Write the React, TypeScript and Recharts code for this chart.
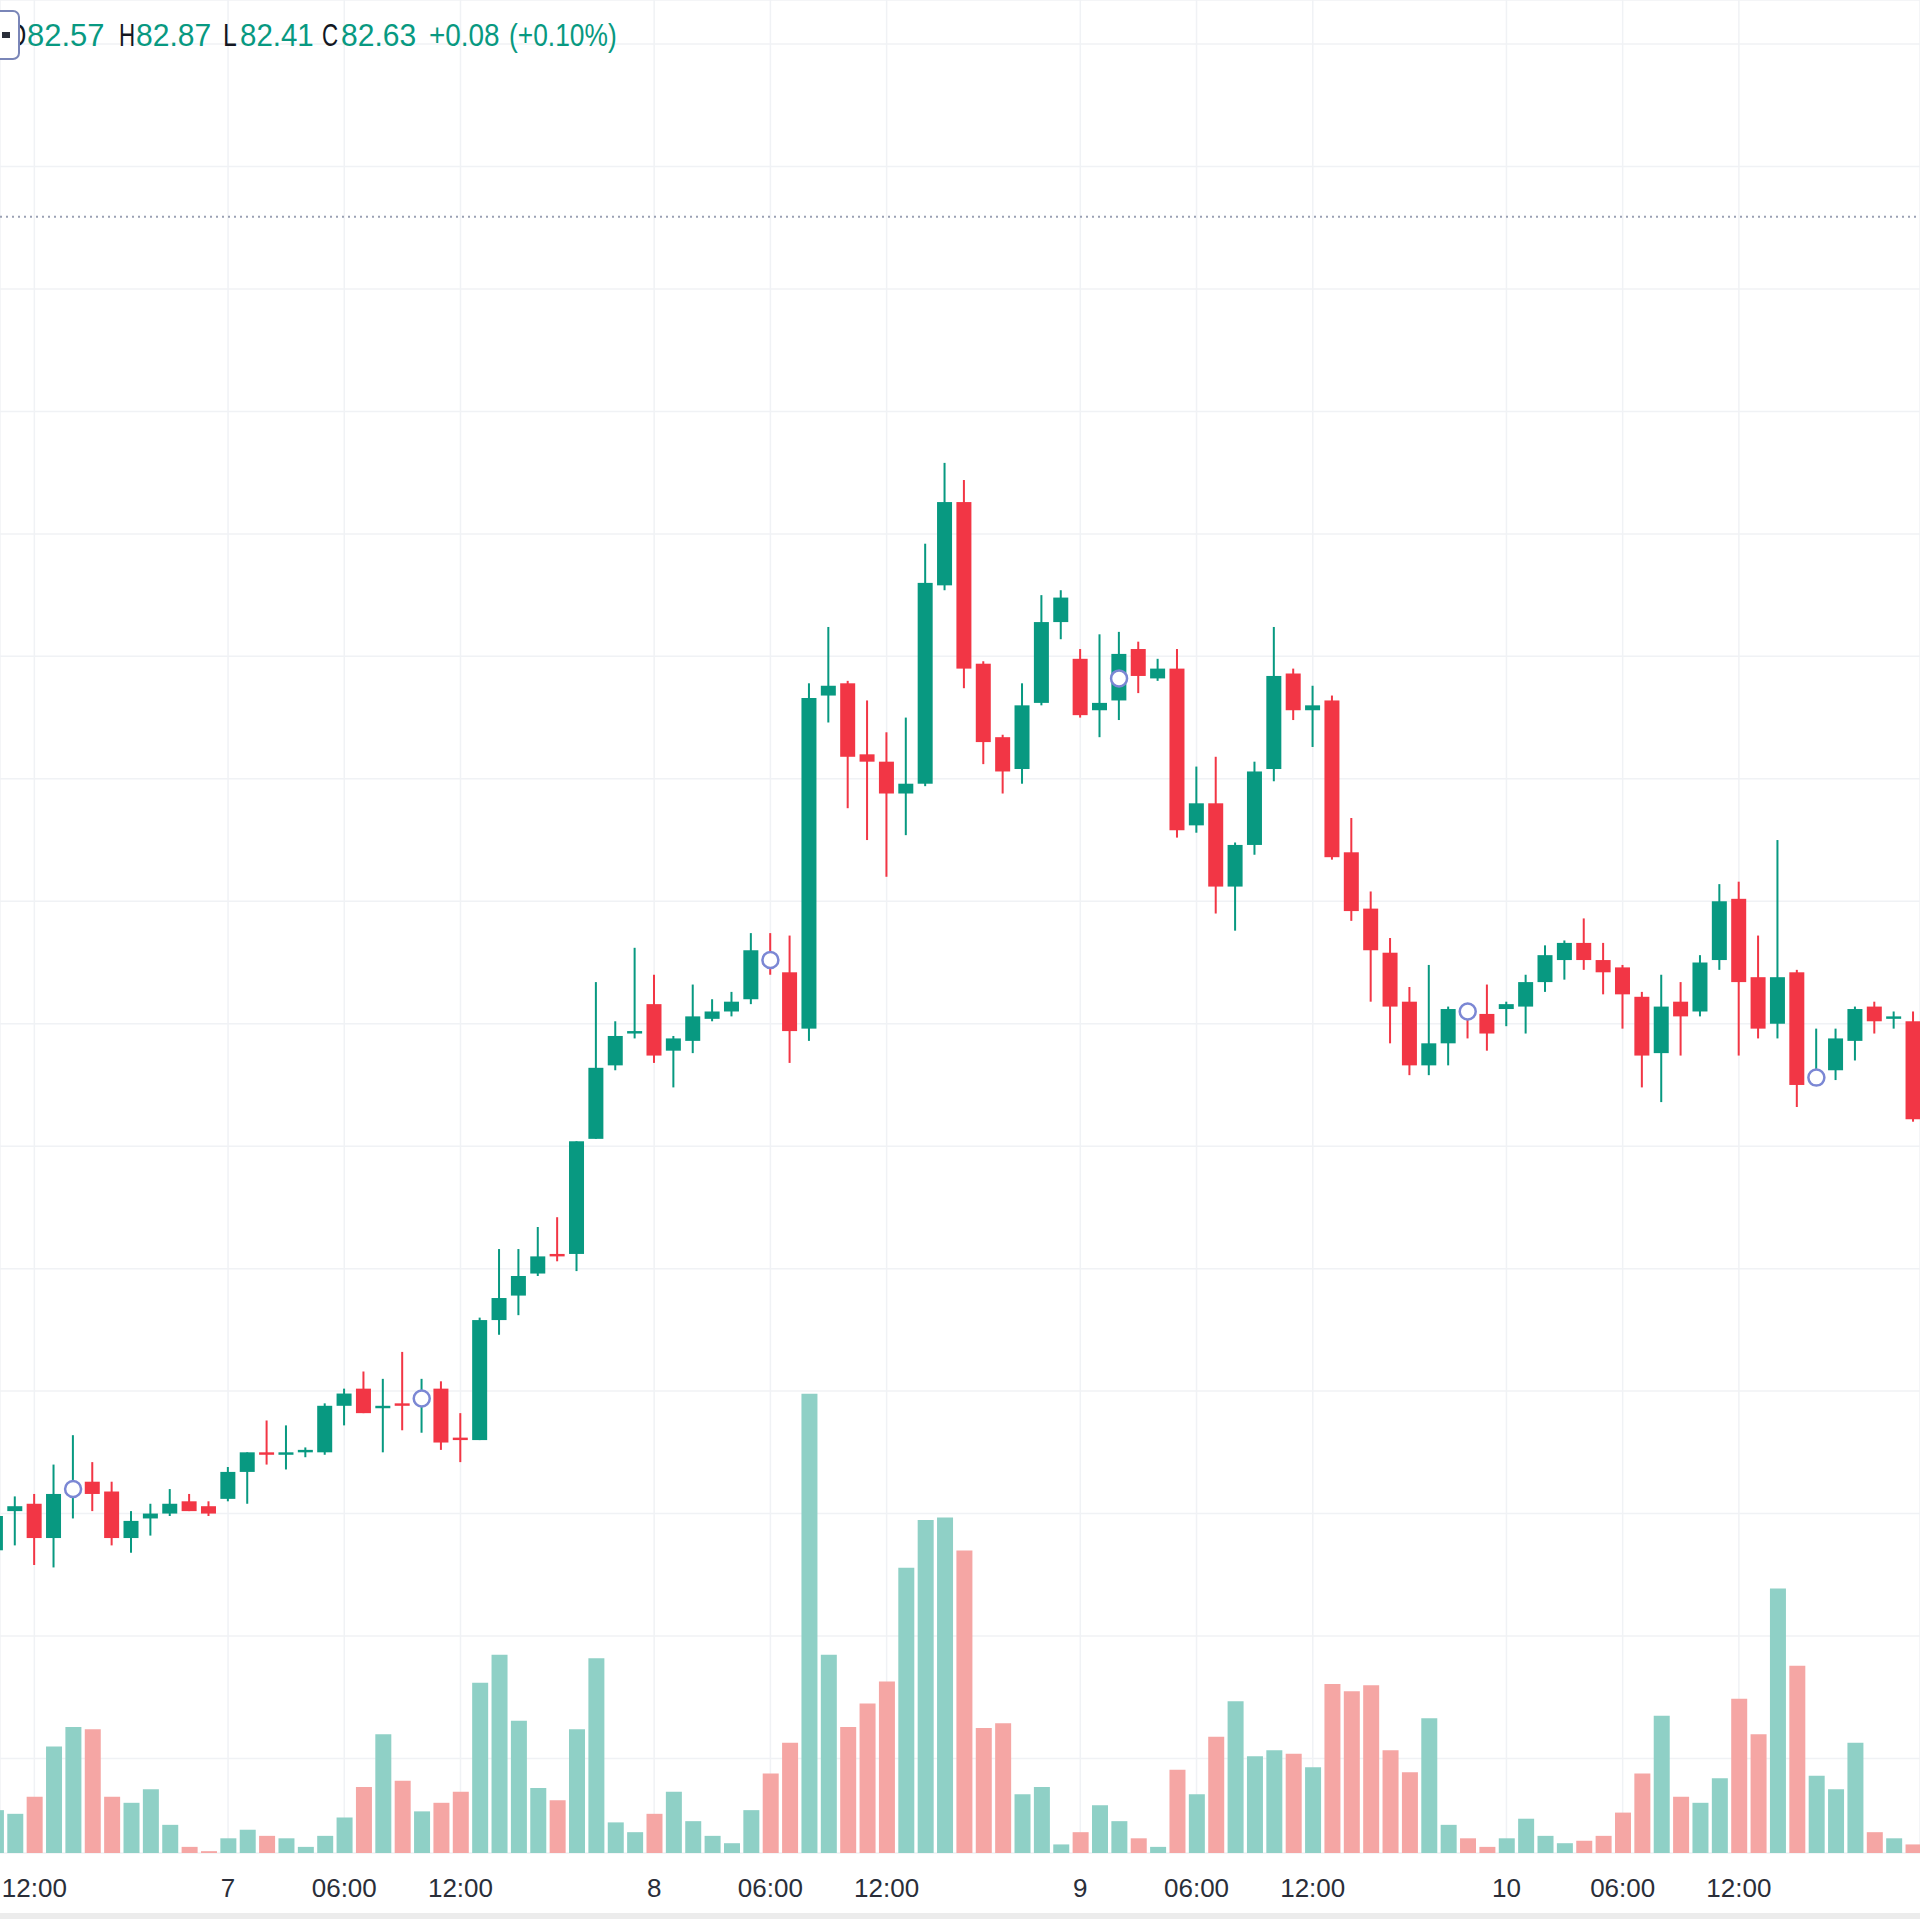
import React from 'react';
import { ComposedChart, Bar, Scatter, XAxis, YAxis, CartesianGrid, ReferenceLine, Cell } from 'recharts';

const opens = [80.85,81.01,81.04,80.90,81.09,81.13,81.09,80.90,80.98,81.00,81.05,81.03,81.06,81.17,81.25,81.24,81.25,81.25,81.44,81.51,81.43,81.45,81.45,81.51,81.31,81.30,81.79,81.89,81.98,82.06,82.06,82.53,82.83,82.96,83.08,82.89,82.93,83.02,83.05,83.10,83.27,83.21,82.98,84.34,84.39,84.10,84.07,83.94,83.98,84.79,85.13,84.47,84.17,84.04,84.31,84.64,84.49,84.28,84.32,84.53,84.41,84.45,83.81,83.90,83.56,83.73,84.04,84.43,84.28,84.32,83.70,83.47,83.29,83.09,82.83,82.92,83.05,83.04,83.06,83.07,83.17,83.26,83.33,83.26,83.23,83.11,82.88,83.09,83.05,83.26,83.51,83.19,83.00,83.21,82.76,82.81,82.93,83.07,83.02,83.01];
const highs = [81.06,81.07,81.08,81.20,81.32,81.21,81.13,81.01,81.04,81.10,81.08,81.05,81.19,81.25,81.38,81.36,81.27,81.45,81.51,81.58,81.55,81.66,81.55,81.54,81.41,81.80,82.08,82.08,82.17,82.21,82.52,83.17,83.01,83.31,83.20,82.95,83.16,83.10,83.13,83.37,83.37,83.36,84.39,84.62,84.40,84.32,84.19,84.25,84.96,85.29,85.22,84.48,84.18,84.39,84.75,84.77,84.53,84.59,84.60,84.56,84.49,84.53,84.05,84.09,83.74,84.07,84.62,84.45,84.38,84.34,83.84,83.54,83.35,83.15,83.24,83.07,83.07,83.16,83.09,83.20,83.32,83.34,83.43,83.33,83.24,83.13,83.20,83.17,83.28,83.57,83.58,83.36,83.75,83.22,82.98,82.98,83.07,83.09,83.05,83.05];
const lows = [80.82,80.87,80.79,80.78,80.98,81.01,80.87,80.84,80.91,80.99,81.01,80.99,81.05,81.04,81.20,81.18,81.23,81.24,81.36,81.41,81.25,81.34,81.33,81.26,81.21,81.30,81.73,81.81,81.97,82.03,81.99,82.53,82.81,82.94,82.84,82.74,82.88,83.01,83.03,83.08,83.20,82.84,82.93,84.23,83.88,83.75,83.60,83.77,83.97,84.77,84.37,84.06,83.94,83.98,84.30,84.57,84.25,84.17,84.24,84.35,84.40,83.76,83.78,83.45,83.38,83.69,83.99,84.24,84.13,83.67,83.42,83.09,82.92,82.79,82.79,82.83,82.94,82.89,82.99,82.96,83.13,83.18,83.22,83.12,82.98,82.74,82.68,82.87,83.03,83.22,82.87,82.94,82.94,82.66,82.75,82.77,82.85,82.96,82.98,82.60];
const closes = [80.99,81.03,80.90,81.08,81.11,81.08,80.90,80.97,81.00,81.04,81.01,81.00,81.17,81.25,81.24,81.25,81.26,81.44,81.49,81.41,81.44,81.44,81.47,81.29,81.30,81.79,81.88,81.97,82.05,82.05,82.52,82.82,82.95,82.97,82.87,82.94,83.03,83.05,83.09,83.30,83.24,82.97,84.33,84.38,84.09,84.07,83.94,83.98,84.80,85.13,84.45,84.15,84.03,84.30,84.64,84.74,84.26,84.31,84.51,84.42,84.45,83.79,83.90,83.56,83.73,84.03,84.42,84.28,84.30,83.68,83.46,83.30,83.07,82.83,82.92,83.06,83.03,82.96,83.08,83.17,83.28,83.33,83.26,83.21,83.12,82.87,83.07,83.03,83.25,83.50,83.17,82.98,83.19,82.75,82.78,82.94,83.06,83.01,83.03,82.61];
const volumes = [350,320,460,870,1030,1010,460,410,520,230,50,15,120,190,140,120,50,140,290,540,970,590,340,410,500,1390,1620,1080,530,430,1010,1590,250,170,320,500,260,140,80,350,650,900,3750,1620,1030,1220,1400,2330,2720,2740,2470,1020,1060,480,540,70,170,390,260,120,50,680,480,950,1240,790,840,810,700,1380,1320,1370,840,660,1100,230,120,50,120,280,140,80,100,140,330,650,1120,460,410,610,1260,970,2160,1530,630,520,900,170,120,70];

const markerIdx = [4, 22, 40, 58, 76, 94];
const markerPrice = [81.10, 81.47, 83.26, 84.41, 83.05, 82.78];

const tickIdx = [2, 12, 18, 24, 34, 40, 46, 56, 62, 68, 78, 84, 90];
const tickLabels = ['12:00', '7', '06:00', '12:00', '8', '06:00', '12:00', '9', '06:00', '12:00', '10', '06:00', '12:00'];

const priceGrid = [80, 80.5, 81, 81.5, 82, 82.5, 83, 83.5, 84, 84.5, 85, 85.5, 86, 86.5, 87];
const priceLine = 86.295;

const header = { o: '82.57', h: '82.87', l: '82.41', c: '82.63', chg: '+0.08', pct: '(+0.10%)' };

const UP = '#089981';
const DOWN = '#f23645';
const VOL_UP = '#8fd0c6';
const VOL_DOWN = '#f5a6a4';
const TEXT = '#131722';

const data = opens.map((o, i) => ({
  i,
  open: o,
  high: highs[i],
  low: lows[i],
  close: closes[i],
  range: [lows[i], highs[i]],
  vol: volumes[i],
}));

const markerData = markerIdx.map((i, k) => ({ i, marker: markerPrice[k] }));

const Candle = (props: any) => {
  const { x, y, width, height, payload } = props;
  if (!payload || height == null) return null;
  const { open, close, high, low } = payload;
  const h = Math.abs(height);
  const top = Math.min(y, y + height);
  const per = high - low > 0 ? h / (high - low) : 0;
  const yO = top + (high - open) * per;
  const yC = top + (high - close) * per;
  const color = close >= open ? UP : DOWN;
  const bTop = Math.min(yO, yC);
  const bH = Math.max(Math.abs(yO - yC), 2);
  const cx = x + width / 2;
  return (
    <g>
      <rect x={cx - 1} y={top} width={2} height={h} fill={color} />
      <rect x={x} y={bTop} width={width} height={bH} fill={color} />
    </g>
  );
};

const Marker = (props: any) => {
  const { cx, cy } = props;
  if (cx == null || cy == null) return null;
  return <circle cx={cx} cy={cy} r={8} fill="#ffffff" stroke="#7b87d4" strokeWidth={2.5} />;
};

const FONT = "'Liberation Sans', Arial, sans-serif";

const TimeTick = (props: any) => {
  const { x, y, payload } = props;
  const k = tickIdx.indexOf(payload.value);
  return (
    <text x={x} y={y} dy={44} textAnchor="middle" fontFamily={FONT} fontSize={26} fill="#2a2e39">
      {k >= 0 ? tickLabels[k] : ''}
    </text>
  );
};

const Token = ({ left, color, sx, children }: { left: number; color: string; sx: number; children: React.ReactNode }) => (
  <div
    style={{
      position: 'absolute',
      left,
      top: 18,
      fontFamily: FONT,
      fontSize: 31,
      lineHeight: '36px',
      color,
      whiteSpace: 'nowrap',
      transform: `scaleX(${sx})`,
      transformOrigin: 'left center',
    }}
  >
    {children}
  </div>
);

export default function App() {
  return (
    <div style={{ position: 'absolute', left: 0, top: 0, width: 1920, height: 1919, background: '#ffffff', overflow: 'hidden' }}>
      <ComposedChart width={1920} height={1919} data={data} margin={{ top: 0, right: 0, bottom: 0, left: 0 }}>
        <CartesianGrid stroke="#f0f2f5" strokeWidth={1.5} />
        <XAxis
          dataKey="i"
          type="number"
          domain={[0.227, 99.35]}
          allowDataOverflow
          ticks={tickIdx}
          interval={0}
          height={66}
          axisLine={false}
          tickLine={false}
          tickSize={0}
          tickMargin={0}
          tick={<TimeTick />}
        />
        <XAxis xAxisId="vol" dataKey="i" type="number" domain={[0.227, 99.35]} allowDataOverflow hide />
        <YAxis type="number" domain={[79.614, 87.18]} allowDataOverflow ticks={priceGrid} hide />
        <YAxis yAxisId="vol" type="number" domain={[0, 15133]} allowDataOverflow hide orientation="right" />
        <ReferenceLine y={priceLine} stroke="#9aa1b4" strokeWidth={2} strokeDasharray="2 4" />
        <Bar xAxisId="vol" yAxisId="vol" dataKey="vol" barSize={16} isAnimationActive={false}>
          {data.map((d, k) => (
            <Cell key={k} fill={d.close >= d.open ? VOL_UP : VOL_DOWN} />
          ))}
        </Bar>
        <Bar dataKey="range" barSize={15} shape={<Candle />} isAnimationActive={false} />
        <Scatter data={markerData} dataKey="marker" shape={<Marker />} isAnimationActive={false} />
      </ComposedChart>

      <Token left={7} color={TEXT} sx={0.8}>O</Token>
      <div
        style={{
          position: 'absolute',
          left: -12,
          top: 10,
          width: 32,
          height: 50,
          border: '2px solid #7a86b8',
          borderRadius: 7,
          background: '#ffffff',
          boxSizing: 'border-box',
        }}
      >
        <div style={{ position: 'absolute', left: 12, top: 20, width: 8, height: 6, background: '#2a2e39' }} />
      </div>
      <Token left={27} color={UP} sx={1}>{header.o}</Token>
      <Token left={119} color={TEXT} sx={0.72}>H</Token>
      <Token left={136} color={UP} sx={0.97}>{header.h}</Token>
      <Token left={223} color={TEXT} sx={0.8}>L</Token>
      <Token left={240} color={UP} sx={0.95}>{header.l}</Token>
      <Token left={322} color={TEXT} sx={0.72}>C</Token>
      <Token left={341} color={UP} sx={0.97}>{header.c}</Token>
      <Token left={429} color={UP} sx={0.9}>{header.chg}</Token>
      <Token left={509} color={UP} sx={0.85}>{header.pct}</Token>

      <div style={{ position: 'absolute', left: 0, top: 1913, width: 1920, height: 6, background: '#ececec' }} />
    </div>
  );
}
